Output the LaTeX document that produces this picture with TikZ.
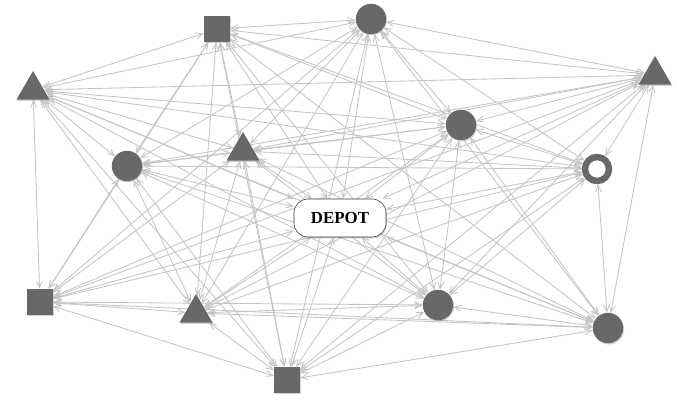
\documentclass[tikz,border=0pt]{standalone}
\usepackage{fontspec}
\setmainfont{Liberation Serif}
\usetikzlibrary{arrows.meta,shapes.geometric,shadows,backgrounds}
\definecolor{stop}{RGB}{104,104,106}
\definecolor{link}{RGB}{196,196,196}

\begin{document}
\begin{tikzpicture}[x=0.025cm,y=-0.025cm,
  every node/.style={inner sep=0pt,drop shadow={opacity=0.35,shadow xshift=0.6pt,shadow yshift=-0.9pt}},
  sq/.style={rectangle,fill=stop,minimum size=0.65cm},
  ci/.style={circle,fill=stop,minimum size=0.76cm},
  tri/.style={regular polygon,regular polygon sides=3,fill=stop,minimum size=0.95cm},
  ring/.style={circle,draw=stop,line width=1.6mm,fill=white,minimum size=0.6cm},
  depotbox/.style={rectangle,rounded corners=3.5mm,draw=black!80,fill=white,minimum width=2.3cm,minimum height=0.95cm,font=\fontsize{12}{14}\selectfont\bfseries},
  edge/.style={draw=link,line width=0.6pt,{Straight Barb[length=1.7mm,width=1.5mm]}-{Straight Barb[length=1.7mm,width=1.5mm]}}]
\useasboundingbox (0,0) rectangle (677,401);
\node[sq] (sqA) at (217,29) {};
\node[ci] (ciA) at (371,19) {};
\node[tri] (trA) at (33,90) {};
\node[tri] (trB) at (655,75) {};
\node[ci] (ciB) at (461,125) {};
\node[tri] (trC) at (243,151) {};
\node[ci] (ciC) at (127,166) {};
\node[ring] (ring) at (597,169) {};
\node[depotbox] (depot) at (340,218) {DEPOT};
\node[sq] (sqB) at (40,302) {};
\node[tri] (trD) at (196,313) {};
\node[ci] (ciD) at (438,305) {};
\node[ci] (ciE) at (608,328) {};
\node[sq] (sqC) at (287,380) {};
% every stop is linked with every other one
\begin{scope}[on background layer]
\foreach \a [count=\i] in {sqA,ciA,trA,trB,ciB,trC,ciC,ring,depot,sqB,trD,ciD,ciE,sqC}
  \foreach \b [count=\j] in {sqA,ciA,trA,trB,ciB,trC,ciC,ring,depot,sqB,trD,ciD,ciE,sqC}
    {\ifnum\j>\i \path[edge] (\a) -- (\b);\fi}
\end{scope}
\end{tikzpicture}
\end{document}
